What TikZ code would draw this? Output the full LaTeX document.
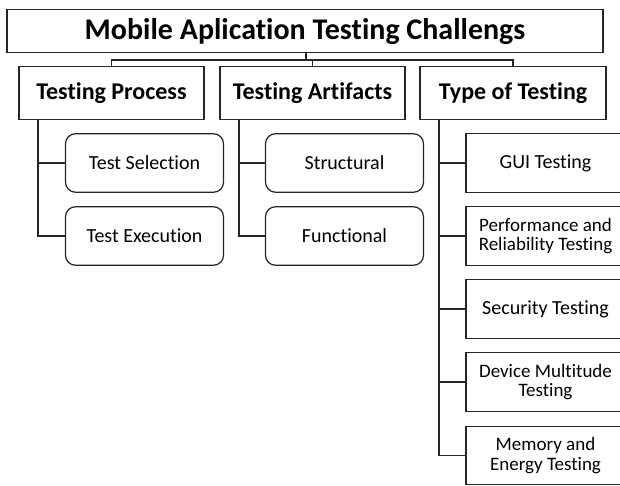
\documentclass[tikz,border=0pt]{standalone}
\usepackage{fontspec}
\setmainfont{Carlito}[Ligatures=CommonOff]
\begin{document}
\begin{tikzpicture}[x=1pt,y=-1pt,
  line width=1.2pt, draw=black!85,
  box/.style={draw=black!85, rectangle, inner sep=0pt, outer sep=0pt, align=center},
  titlebox/.style={box, minimum width=596pt, minimum height=43pt, font=\fontsize{30}{32}\selectfont\bfseries},
  catbox/.style={box, minimum width=185pt, minimum height=53pt, font=\fontsize{24}{26}\selectfont\bfseries},
  roundbox/.style={box, rounded corners=10pt, minimum width=158pt, minimum height=58.5pt, font=\fontsize{20}{21}\selectfont},
  sqbox/.style={box, minimum width=159pt, minimum height=58.5pt, font=\fontsize{19}{19.5}\selectfont},
  link/.style={draw=black!85, line width=1.2pt}]
\useasboundingbox (0,0) rectangle (620,485);
\begin{scope}
\clip (0,0) rectangle (620,485);
\node[titlebox] (title) at (305,31.25) {Mobile Aplication Testing Challengs};
\node[catbox] (cp) at (111.5,93) {Testing Process};
\node[catbox] (ca) at (312.5,93) {Testing Artifacts};
\node[catbox, minimum width=186pt] (ct) at (513,93) {Type of Testing};

\node[roundbox] (p1) at (144.5,163) {Test Selection};
\node[roundbox] (p2) at (144.5,236) {Test Execution};
\node[roundbox] (a1) at (344.5,163) {Structural};
\node[roundbox] (a2) at (344.5,236) {Functional};

\node[sqbox] (t1) at (545.5,163) {\fontsize{20}{21}\selectfont GUI Testing};
\node[sqbox] (t2) at (545.5,236) {Performance and\\Reliability Testing};
\node[sqbox] (t3) at (545.5,309) {\fontsize{20}{21}\selectfont Security Testing};
\node[sqbox] (t4) at (545.5,382) {Device Multitude\\Testing};
\node[sqbox] (t5) at (545.5,455.5) {Memory and\\Energy Testing};

\coordinate (bus) at (306,60);
\draw[link] (title.south -| bus) -- (bus);
\draw[link] (cp.north) -- (cp.north |- bus) -- (ct.north |- bus) -- (ct.north);
\draw[link] (ca.north) -- (ca.north |- bus);

\coordinate (vp) at (38,120);
\coordinate (va) at (239,120);
\coordinate (vt) at (439,120);
\draw[link] (vp) |- (p2.west);
\draw[link] (p1.west) -- (p1.west -| vp);
\draw[link] (va) |- (a2.west);
\draw[link] (a1.west) -- (a1.west -| va);
\draw[link] (vt) |- (t5.west);
\foreach \n in {t1,t2,t3,t4}{\draw[link] (\n.west) -- (\n.west -| vt);}
\end{scope}
\end{tikzpicture}
\end{document}
